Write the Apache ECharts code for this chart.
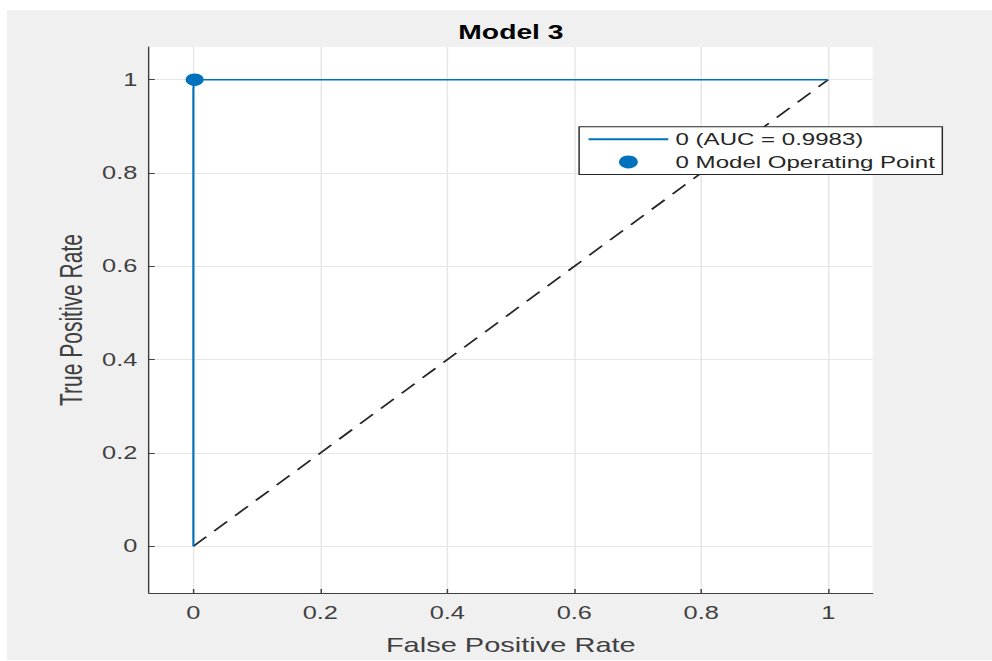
<!DOCTYPE html>
<html>
<head>
<meta charset="utf-8">
<script src="https://cdn.jsdelivr.net/npm/echarts@6/dist/echarts.min.js"></script>
<style>
html,body{margin:0;padding:0;background:#fff;overflow:hidden;}
#bg{position:absolute;left:7px;top:10px;width:985px;height:650px;background:#f0f0f0;}
/* the reference picture is stretched horizontally (~1.45x); reproduce that stretch */
#c{position:absolute;left:0;top:0;width:684px;height:661px;transform:scaleX(1.45029);transform-origin:0 0;}
</style>
</head>
<body>
<div id="bg"></div>
<div id="c"></div>
<script>
const titleText = 'Model 3';
const xName = 'False Positive Rate';
const yName = 'True Positive Rate';
const tickValues = [0, 0.2, 0.4, 0.6, 0.8, 1];
const rocFPR = [0, 0, 0, 0.001, 0.003, 0.5, 1];
const rocTPR = [0, 0.8, 0.98, 0.995, 1, 1, 1];
const opPoint = [0.002, 1];
const chanceX = [0, 1];
const chanceY = [0, 1];
const rocLabel = '0 (AUC = 0.9983)';
const opLabel = '0 Model Operating Point';

const font = 'Liberation Sans, Arial, sans-serif';
const axisColor = '#404040';
const chart = echarts.init(document.getElementById('c'), null, {renderer: 'svg'});
chart.setOption({
  backgroundColor: 'transparent',
  animation: false,
  title: {
    text: titleText,
    left: 347.3, top: 17, textAlign: 'center',
    textStyle: {fontFamily: font, fontSize: 19.5, fontWeight: 'bold', color: '#000'}
  },
  grid: {left: 102.7, top: 47, right: 82.3, bottom: 68, show: true, backgroundColor: '#fff', borderWidth: 0},
  legend: {
    orient: 'vertical', left: 399.3, top: 126.7, align: 'left',
    backgroundColor: '#fff', borderColor: '#262626', borderWidth: 1,
    padding: [3, 5, 3, 5.5], itemGap: 3.7, itemWidth: 55, itemHeight: 13,
    textStyle: {fontFamily: font, fontSize: 16.6, lineHeight: 19, color: '#262626'},
    data: [
      {name: rocLabel, itemStyle: {opacity: 0}},
      {name: opLabel, icon: 'circle'}
    ]
  },
  xAxis: {
    type: 'value', min: -0.07, max: 1.07,
    name: xName, nameLocation: 'middle', nameGap: 42,
    nameTextStyle: {fontFamily: font, fontSize: 20, color: axisColor},
    axisLine: {show: true, onZero: false, lineStyle: {color: axisColor, width: 1}},
    axisTick: {show: true, inside: true, length: 4, lineStyle: {color: axisColor}, customValues: tickValues},
    axisLabel: {fontFamily: font, fontSize: 17.5, color: axisColor, margin: 11,
      formatter: v => String(Math.round(v * 10) / 10),
      customValues: tickValues},
    splitLine: {show: true, lineStyle: {color: '#e6e6e6', width: 1}}
  },
  yAxis: {
    type: 'value', min: -0.1, max: 1.07,
    name: yName, nameLocation: 'middle', nameGap: 38.5,
    nameTextStyle: {fontFamily: font, fontSize: 21, color: axisColor},
    axisLine: {show: true, onZero: false, lineStyle: {color: axisColor, width: 1}},
    axisTick: {show: true, inside: true, length: 4, lineStyle: {color: axisColor}, customValues: tickValues},
    axisLabel: {fontFamily: font, fontSize: 17.5, color: axisColor, margin: 8,
      formatter: v => String(Math.round(v * 10) / 10),
      customValues: tickValues},
    splitLine: {show: true, lineStyle: {color: '#e6e6e6', width: 1}}
  },
  series: [
    {
      name: 'chance', type: 'line', symbol: 'none',
      data: chanceX.map((x, i) => [x, chanceY[i]]),
      lineStyle: {color: '#262626', width: 1.5, type: [13, 8]},
      z: 1
    },
    {
      name: rocLabel, type: 'line', symbol: 'none',
      data: rocFPR.map((x, i) => [x, rocTPR[i]]),
      lineStyle: {color: '#0072BD', width: 1.5},
      itemStyle: {color: '#0072BD'},
      z: 2
    },
    {
      name: opLabel, type: 'scatter', symbol: 'circle', symbolSize: 12.5,
      data: [opPoint],
      itemStyle: {color: '#0072BD', opacity: 1},
      z: 3
    }
  ]
});
</script>
</body>
</html>
